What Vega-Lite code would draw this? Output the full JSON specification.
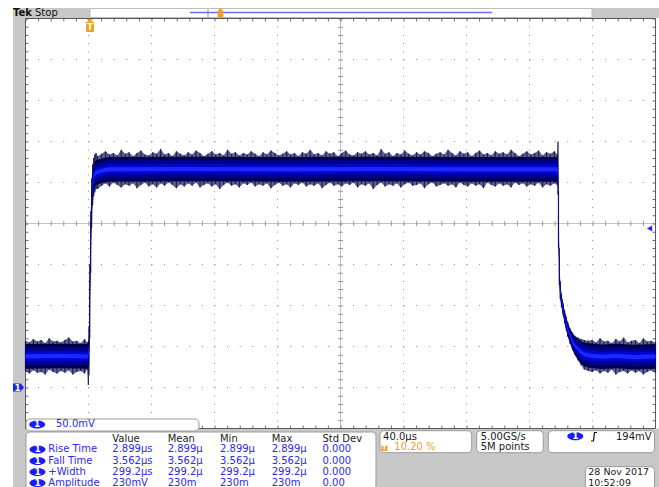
{
"$schema":"https://vega.github.io/schema/vega-lite/v6.json",
"width":659,"height":487,"autosize":{"type":"none"},"padding":0,"background":"white",
"config":{"view":{"stroke":null},"text":{"font":"DejaVu Sans","fontSize":10}},
"datasets":{
"greys":[{"t":-48.74,"t2":-41.12,"v":462.8,"v2":-125},{"t":-48.74,"t2":0.15,"v":462.8,"v2":450.6},{"t":318.9,"t2":362,"v":462.8,"v2":450.6},{"t":-41.12,"t2":362,"v":-50,"v2":-125}],
"recOutline":[{"t":75.07,"t2":318.89,"v":462.2,"v2":451.2},{"t":0.15,"t2":75.07,"v":462.2,"v2":451.2}],
"recLine":[{"t":63.63,"t2":255.38,"v":457.3}],
"recmark":[{"t":83.0,"v":456.6}],
"vgrid":[{"t":-0.8,"v":450,"v2":-50},{"t":39.2,"v":450,"v2":-50},{"t":79.2,"v":450,"v2":-50},{"t":119.2,"v":450,"v2":-50},{"t":199.2,"v":450,"v2":-50},{"t":239.2,"v":450,"v2":-50},{"t":279.2,"v":450,"v2":-50},{"t":319.2,"v":450,"v2":-50}],
"hgrid":[{"t":-40.8,"t2":359.2,"v":0},{"t":-40.8,"t2":359.2,"v":50},{"t":-40.8,"t2":359.2,"v":100},{"t":-40.8,"t2":359.2,"v":150},{"t":-40.8,"t2":359.2,"v":250},{"t":-40.8,"t2":359.2,"v":300},{"t":-40.8,"t2":359.2,"v":350},{"t":-40.8,"t2":359.2,"v":400}],
"centerH":[{"t":-40.8,"t2":359.2,"v":200}],
"centerV":[{"t":159.2,"v":450,"v2":-50}],
"edgeH":[{"t":-40.8,"t2":359.2,"v":448.17},{"t":-40.8,"t2":359.2,"v":-48.17}],
"edgeV":[{"t":-39.85,"v":450,"v2":-50},{"t":358.25,"v":450,"v2":-50}],
"frame":[{"t":-40.8,"t2":359.2,"v":450,"v2":-50}],
"outer":[
{"t":-40.8,"v":20,"v2":57},{"t":-38.3,"v":17,"v2":55},{"t":-35.8,"v":21,"v2":59},{"t":-33.3,"v":18,"v2":56},{"t":-30.8,"v":19,"v2":58},{"t":-28.3,"v":16,"v2":54},{"t":-25.8,"v":22,"v2":60},{"t":-23.3,"v":19,"v2":56},{"t":-20.8,"v":17,"v2":57},{"t":-18.3,"v":20,"v2":55},{"t":-15.8,"v":18,"v2":58},{"t":-13.3,"v":21,"v2":61},{"t":-10.8,"v":16,"v2":56},{"t":-8.3,"v":19,"v2":57},{"t":-5.8,"v":20,"v2":54},{"t":-3.3,"v":17,"v2":59},{"t":-1.6,"v":22,"v2":55},
{"t":-0.9,"v":3,"v2":56},{"t":-0.5,"v":15,"v2":75},{"t":0,"v":60,"v2":150},{"t":0.6,"v":140,"v2":215},{"t":1.2,"v":195,"v2":255},{"t":1.8,"v":222,"v2":272},{"t":2.5,"v":233,"v2":280},{"t":3.2,"v":238,"v2":284},{"t":4,"v":242,"v2":286},
{"t":5,"v":242,"v2":282},{"t":7.5,"v":246,"v2":285},{"t":10,"v":249,"v2":288},{"t":12.5,"v":245,"v2":284},{"t":15,"v":250,"v2":286},{"t":17.5,"v":247,"v2":283},{"t":20,"v":244,"v2":290},{"t":22.5,"v":248,"v2":285},{"t":25,"v":246,"v2":287},{"t":27.5,"v":249,"v2":282},{"t":30,"v":243,"v2":286},{"t":32.5,"v":247,"v2":289},{"t":35,"v":250,"v2":284},{"t":37.5,"v":245,"v2":283},{"t":40,"v":248,"v2":287},{"t":42.5,"v":244,"v2":285},{"t":45,"v":249,"v2":291},{"t":47.5,"v":246,"v2":284},{"t":50,"v":250,"v2":286},{"t":52.5,"v":247,"v2":282},{"t":55,"v":243,"v2":288},{"t":57.5,"v":248,"v2":285},{"t":60,"v":245,"v2":283},{"t":62.5,"v":249,"v2":287},{"t":65,"v":246,"v2":284},{"t":67.5,"v":250,"v2":289},{"t":70,"v":244,"v2":286},{"t":72.5,"v":247,"v2":282},{"t":75,"v":249,"v2":285},{"t":77.5,"v":245,"v2":288},{"t":80,"v":248,"v2":284},{"t":82.5,"v":242,"v2":286},{"t":85,"v":247,"v2":283},{"t":87.5,"v":250,"v2":290},{"t":90,"v":246,"v2":285},{"t":92.5,"v":248,"v2":287},{"t":95,"v":244,"v2":283},{"t":97.5,"v":249,"v2":286},{"t":100,"v":247,"v2":284},{"t":102.5,"v":250,"v2":288},{"t":105,"v":245,"v2":285},{"t":107.5,"v":248,"v2":282},{"t":110,"v":246,"v2":287},{"t":112.5,"v":249,"v2":284},{"t":115,"v":243,"v2":289},{"t":117.5,"v":247,"v2":286},{"t":120,"v":250,"v2":283},{"t":122.5,"v":246,"v2":285},{"t":125,"v":248,"v2":288},{"t":127.5,"v":244,"v2":284},{"t":130,"v":249,"v2":286},{"t":132.5,"v":247,"v2":282},{"t":135,"v":250,"v2":287},{"t":137.5,"v":245,"v2":285},{"t":140,"v":248,"v2":290},{"t":142.5,"v":246,"v2":284},{"t":145,"v":249,"v2":286},{"t":147.5,"v":243,"v2":283},{"t":150,"v":247,"v2":288},{"t":152.5,"v":250,"v2":285},{"t":155,"v":246,"v2":287},{"t":157.5,"v":248,"v2":282},{"t":160,"v":245,"v2":286},{"t":162.5,"v":249,"v2":289},{"t":165,"v":247,"v2":284},{"t":167.5,"v":250,"v2":283},{"t":170,"v":244,"v2":287},{"t":172.5,"v":248,"v2":285},{"t":175,"v":246,"v2":288},{"t":177.5,"v":249,"v2":284},{"t":180,"v":242,"v2":286},{"t":182.5,"v":247,"v2":283},{"t":185,"v":250,"v2":291},{"t":187.5,"v":245,"v2":285},{"t":190,"v":248,"v2":287},{"t":192.5,"v":246,"v2":282},{"t":195,"v":249,"v2":286},{"t":197.5,"v":244,"v2":284},{"t":200,"v":248,"v2":289},{"t":202.5,"v":250,"v2":285},{"t":205,"v":246,"v2":283},{"t":207.5,"v":247,"v2":287},{"t":210,"v":249,"v2":284},{"t":212.5,"v":243,"v2":288},{"t":215,"v":248,"v2":286},{"t":217.5,"v":250,"v2":282},{"t":220,"v":245,"v2":285},{"t":222.5,"v":247,"v2":287},{"t":225,"v":249,"v2":284},{"t":227.5,"v":246,"v2":290},{"t":230,"v":248,"v2":286},{"t":232.5,"v":244,"v2":283},{"t":235,"v":250,"v2":288},{"t":237.5,"v":247,"v2":285},{"t":240,"v":245,"v2":287},{"t":242.5,"v":249,"v2":282},{"t":245,"v":246,"v2":286},{"t":247.5,"v":248,"v2":289},{"t":250,"v":243,"v2":284},{"t":252.5,"v":250,"v2":286},{"t":255,"v":247,"v2":283},{"t":257.5,"v":245,"v2":288},{"t":260,"v":249,"v2":285},{"t":262.5,"v":246,"v2":287},{"t":265,"v":248,"v2":284},{"t":267.5,"v":244,"v2":290},{"t":270,"v":250,"v2":286},{"t":272.5,"v":247,"v2":282},{"t":275,"v":249,"v2":285},{"t":277.5,"v":245,"v2":288},{"t":280,"v":248,"v2":284},{"t":282.5,"v":246,"v2":286},{"t":285,"v":250,"v2":289},{"t":287.5,"v":244,"v2":283},{"t":290,"v":248,"v2":287},{"t":292.5,"v":246,"v2":285},{"t":295,"v":249,"v2":288},{"t":296.8,"v":247,"v2":284},
{"t":297.3,"v":235,"v2":300},{"t":297.6,"v":170,"v2":240},{"t":298.1,"v":125,"v2":170},{"t":298.7,"v":108,"v2":130},{"t":299.5,"v":98,"v2":114},{"t":300.5,"v":88,"v2":103},{"t":301.5,"v":78,"v2":94},{"t":302.5,"v":70,"v2":87},{"t":303.5,"v":62,"v2":80},{"t":305,"v":53,"v2":72},{"t":306.5,"v":46,"v2":67},{"t":308,"v":40,"v2":63},{"t":310,"v":33,"v2":61},{"t":312,"v":27,"v2":59},{"t":314,"v":22,"v2":58},{"t":316.5,"v":20,"v2":57},
{"t":319,"v":19,"v2":58},{"t":321.5,"v":21,"v2":55},{"t":324,"v":17,"v2":60},{"t":326.5,"v":20,"v2":56},{"t":329,"v":18,"v2":57},{"t":331.5,"v":22,"v2":54},{"t":334,"v":16,"v2":59},{"t":336.5,"v":19,"v2":56},{"t":339,"v":20,"v2":61},{"t":341.5,"v":17,"v2":55},{"t":344,"v":21,"v2":57},{"t":346.5,"v":18,"v2":58},{"t":349,"v":20,"v2":54},{"t":351.5,"v":16,"v2":60},{"t":354,"v":19,"v2":56},{"t":356.5,"v":21,"v2":57},{"t":359.2,"v":18,"v2":55}],
"bands":[
{"t":-40.8,"o1":23,"o2":53,"m1":27,"m2":49,"i1":32,"i2":44,"c1":35.5,"c2":40.5},{"t":-20,"o1":23.5,"o2":53.5,"m1":27.5,"m2":49.5,"i1":32.5,"i2":44.5,"c1":36,"c2":41},{"t":-1.2,"o1":23,"o2":53,"m1":27,"m2":49,"i1":32,"i2":44,"c1":35.5,"c2":40.5},{"t":-0.5,"o1":30,"o2":60,"m1":34,"m2":56,"i1":39,"i2":51,"c1":42.5,"c2":47.5},{"t":0,"o1":90,"o2":120,"m1":94,"m2":116,"i1":99,"i2":111,"c1":102.5,"c2":107.5},{"t":0.6,"o1":163,"o2":193,"m1":167,"m2":189,"i1":172,"i2":184,"c1":175.5,"c2":180.5},{"t":1.2,"o1":210,"o2":240,"m1":214,"m2":236,"i1":219,"i2":231,"c1":222.5,"c2":227.5},{"t":1.8,"o1":232,"o2":262,"m1":236,"m2":258,"i1":241,"i2":253,"c1":244.5,"c2":249.5},{"t":2.5,"o1":241,"o2":271,"m1":245,"m2":267,"i1":250,"i2":262,"c1":253.5,"c2":258.5},{"t":3.2,"o1":245,"o2":275,"m1":249,"m2":271,"i1":254,"i2":266,"c1":257.5,"c2":262.5},{"t":4,"o1":247,"o2":277,"m1":251,"m2":273,"i1":256,"i2":268,"c1":259.5,"c2":264.5},{"t":7,"o1":249,"o2":279,"m1":253,"m2":275,"i1":258,"i2":270,"c1":261.5,"c2":266.5},{"t":12,"o1":251,"o2":281,"m1":255,"m2":277,"i1":260,"i2":272,"c1":263.5,"c2":268.5},{"t":60,"o1":251.5,"o2":281.5,"m1":255.5,"m2":277.5,"i1":260.5,"i2":272.5,"c1":264,"c2":269},{"t":120,"o1":251,"o2":281,"m1":255,"m2":277,"i1":260,"i2":272,"c1":263.5,"c2":268.5},{"t":180,"o1":251.5,"o2":281.5,"m1":255.5,"m2":277.5,"i1":260.5,"i2":272.5,"c1":264,"c2":269},{"t":240,"o1":251,"o2":281,"m1":255,"m2":277,"i1":260,"i2":272,"c1":263.5,"c2":268.5},{"t":296.8,"o1":251,"o2":281,"m1":255,"m2":277,"i1":260,"i2":272,"c1":263.5,"c2":268.5},{"t":297.3,"o1":247,"o2":277,"m1":251,"m2":273,"i1":256,"i2":268,"c1":259.5,"c2":264.5},{"t":297.6,"o1":190,"o2":220,"m1":194,"m2":216,"i1":199,"i2":211,"c1":202.5,"c2":207.5},{"t":298.1,"o1":136,"o2":160,"m1":139,"m2":157,"i1":143,"i2":153,"c1":146,"c2":150},{"t":298.7,"o1":110,"o2":128,"m1":112,"m2":126,"i1":115.5,"i2":122.5,"c1":117,"c2":121},{"t":299.5,"o1":99,"o2":113,"m1":100,"m2":112,"i1":103,"i2":109,"c1":104.5,"c2":107.5},{"t":300.5,"o1":89,"o2":103,"m1":90,"m2":102,"i1":93,"i2":99,"c1":94.5,"c2":97.5},{"t":301.5,"o1":79,"o2":93,"m1":80,"m2":92,"i1":83,"i2":89,"c1":84.5,"c2":87.5},{"t":302.5,"o1":71,"o2":85,"m1":72,"m2":84,"i1":75,"i2":81,"c1":76.5,"c2":79.5},{"t":303.5,"o1":63,"o2":79,"m1":65,"m2":77,"i1":68,"i2":74,"c1":69.5,"c2":72.5},{"t":305,"o1":54,"o2":71,"m1":56,"m2":70,"i1":59.5,"i2":66.5,"c1":61.5,"c2":64.5},{"t":306.5,"o1":46,"o2":66,"m1":48,"m2":64,"i1":52,"i2":60,"c1":54,"c2":58},{"t":308,"o1":40,"o2":62,"m1":42,"m2":60,"i1":46.5,"i2":55.5,"c1":49,"c2":53},{"t":310,"o1":34,"o2":59,"m1":37,"m2":57,"i1":42,"i2":52,"c1":45,"c2":49},{"t":312,"o1":29,"o2":56,"m1":32.5,"m2":53.5,"i1":37.5,"i2":48.5,"c1":41,"c2":45},{"t":314,"o1":26,"o2":55,"m1":29.5,"m2":51.5,"i1":34.5,"i2":46.5,"c1":38,"c2":43},{"t":317,"o1":24,"o2":54,"m1":28,"m2":50,"i1":33,"i2":45,"c1":36.5,"c2":41.5},{"t":325,"o1":22.5,"o2":52.5,"m1":26.5,"m2":48.5,"i1":31.5,"i2":43.5,"c1":35,"c2":40},{"t":335,"o1":23.5,"o2":53.5,"m1":27.5,"m2":49.5,"i1":32.5,"i2":44.5,"c1":36,"c2":41},{"t":345,"o1":22,"o2":52,"m1":26,"m2":48,"i1":31,"i2":43,"c1":34.5,"c2":39.5},{"t":359.2,"o1":23,"o2":53,"m1":27,"m2":49,"i1":32,"i2":44,"c1":35.5,"c2":40.5}],
"trig":[{"t":0.15,"v":441.5}],
"level":[{"t":355.4,"v":194}],
"ground":[{"t":-45.24,"v":0}],
"boxes":[{"t":-40.48,"t2":69.35,"v":-38.41,"v2":-53.05},{"t":-40.48,"t2":181.74,"v":-54.27,"v2":-125},{"t":184.28,"t2":242.5,"v":-52.68,"v2":-79.51},{"t":245.68,"t2":287.96,"v":-52.68,"v2":-79.51},{"t":291.14,"t2":358.6,"v":-52.68,"v2":-79.51},{"t":314.7,"t2":358.6,"v":-96.58,"v2":-125}],
"ones":[{"t":-33.37,"v":-45.12},{"t":-33.18,"v":-75.6},{"t":-33.18,"v":-89.6},{"t":-33.18,"v":-103.0},{"t":-33.18,"v":-116.5},{"t":308.28,"v":-59.5}],
"ticon":[{"t":187.1,"v":-73.8}],
"slope":[{"t":318.25,"v":-65.24},{"t":319.83,"v":-65.24},{"t":320.47,"v":-54.88},{"t":322.05,"v":-54.88}],
"txtBlue":[{"t":-21.43,"v":-45.12,"label":"50.0mV"},
{"t":-26.32,"v":-75.6,"label":"Rise Time"},{"t":14.31,"v":-75.6,"label":"2.899µs"},{"t":49.49,"v":-75.6,"label":"2.899µ"},{"t":82.69,"v":-75.6,"label":"2.899µ"},{"t":115.52,"v":-75.6,"label":"2.899µ"},{"t":147.77,"v":-75.6,"label":"0.000"},
{"t":-26.32,"v":-89.6,"label":"Fall Time"},{"t":14.31,"v":-89.6,"label":"3.562µs"},{"t":49.49,"v":-89.6,"label":"3.562µ"},{"t":82.69,"v":-89.6,"label":"3.562µ"},{"t":115.52,"v":-89.6,"label":"3.562µ"},{"t":147.77,"v":-89.6,"label":"0.000"},
{"t":-26.32,"v":-103.0,"label":"+Width"},{"t":14.31,"v":-103.0,"label":"299.2µs"},{"t":49.49,"v":-103.0,"label":"299.2µ"},{"t":82.69,"v":-103.0,"label":"299.2µ"},{"t":115.52,"v":-103.0,"label":"299.2µ"},{"t":147.77,"v":-103.0,"label":"0.000"},
{"t":-26.32,"v":-116.5,"label":"Amplitude"},{"t":14.31,"v":-116.5,"label":"230mV"},{"t":49.49,"v":-116.5,"label":"230m"},{"t":82.69,"v":-116.5,"label":"230m"},{"t":115.52,"v":-116.5,"label":"230m"},{"t":147.77,"v":-116.5,"label":"0.00"}],
"txtBlack":[{"t":14.31,"v":-62.2,"label":"Value"},{"t":49.49,"v":-62.2,"label":"Mean"},{"t":82.69,"v":-62.2,"label":"Min"},{"t":115.52,"v":-62.2,"label":"Max"},{"t":147.77,"v":-62.2,"label":"Std Dev"},{"t":186.2,"v":-60.0,"label":"40.0µs"},{"t":248.22,"v":-60.0,"label":"5.00GS/s"},{"t":248.22,"v":-71.95,"label":"5M points"}],
"txtDate":[{"t":316.53,"v":-103.4,"label":"28 Nov 2017"},{"t":316.53,"v":-116.2,"label":"10:52:09"}],
"txtRight":[{"t":356.78,"v":-60.0,"label":"194mV"}],
"txtOrange":[{"t":193.36,"v":-71.95,"label":"10.20 %"}],
"txtTek":[{"t":-48.73,"v":456.3,"label":"Tek"}],
"txtStop":[{"t":-34.76,"v":456.3,"label":"Stop"}]
},
"encoding":{
"x":{"field":"t","type":"quantitative","scale":{"domain":[-56.99,361.43],"nice":false,"zero":false},"axis":null},
"y":{"field":"v","type":"quantitative","scale":{"domain":[-121.34,472.56],"nice":false,"zero":false},"axis":null}
},
"layer":[
{"data":{"name":"greys"},"mark":{"type":"rect","fill":"#c8c8c8"},"encoding":{"x2":{"field":"t2"},"y2":{"field":"v2"}}},
{"data":{"name":"recOutline"},"mark":{"type":"rect","fill":"transparent","stroke":"#bdbdbd","strokeWidth":1},"encoding":{"x2":{"field":"t2"},"y2":{"field":"v2"}}},
{"data":{"name":"recLine"},"mark":{"type":"rule","color":"#6b6bff","strokeWidth":1.5},"encoding":{"x2":{"field":"t2"}}},
{"data":{"name":"recmark"},"mark":{"type":"point","shape":"M-0.5,-1 L0.5,-1 L0.12,-0.62 L0.5,-0.62 L0.62,-0.5 L0.62,0.88 L0.5,1 L-0.5,1 L-0.62,0.88 L-0.62,-0.5 L-0.5,-0.62 L-0.12,-0.62 Z","filled":true,"color":"#f0a020","opacity":1,"size":81}},
{"data":{"name":"vgrid"},"mark":{"type":"rule","color":"#8c8c8c","strokeWidth":1,"strokeDash":[1,7.2]},"encoding":{"y2":{"field":"v2"}}},
{"data":{"name":"hgrid"},"mark":{"type":"rule","color":"#8c8c8c","strokeWidth":1,"strokeDash":[1,11.6]},"encoding":{"x2":{"field":"t2"}}},
{"data":{"name":"centerH"},"mark":{"type":"rule","color":"#c4c4c4","strokeWidth":1},"encoding":{"x2":{"field":"t2"}}},
{"data":{"name":"centerV"},"mark":{"type":"rule","color":"#c4c4c4","strokeWidth":1},"encoding":{"y2":{"field":"v2"}}},
{"data":{"name":"centerH"},"mark":{"type":"rule","color":"#9a9a9a","strokeWidth":5,"strokeDash":[1,11.6]},"encoding":{"x2":{"field":"t2"}}},
{"data":{"name":"centerV"},"mark":{"type":"rule","color":"#9a9a9a","strokeWidth":5,"strokeDash":[1,7.2]},"encoding":{"y2":{"field":"v2"}}},
{"data":{"name":"edgeH"},"mark":{"type":"rule","color":"#6e6e6e","strokeWidth":3,"strokeDash":[1,11.6]},"encoding":{"x2":{"field":"t2"}}},
{"data":{"name":"edgeV"},"mark":{"type":"rule","color":"#6e6e6e","strokeWidth":3,"strokeDash":[1,7.2]},"encoding":{"y2":{"field":"v2"}}},
{"data":{"name":"frame"},"mark":{"type":"rect","fill":"transparent","stroke":"#585858","strokeWidth":1},"encoding":{"x2":{"field":"t2"},"y2":{"field":"v2"}}},
{"data":{"name":"outer"},"mark":{"type":"area","fill":"#0a0a52","opacity":0.65},"encoding":{"y2":{"field":"v2"}}},
{"data":{"name":"outer"},"mark":{"type":"rule","color":"#1c1c5e","strokeWidth":1.2},"encoding":{"y2":{"field":"v2"}}},
{"data":{"name":"bands"},"mark":{"type":"area","fill":"#00004a"},"encoding":{"y":{"field":"o1","type":"quantitative","scale":{"domain":[-121.34,472.56],"nice":false,"zero":false},"axis":null},"y2":{"field":"o2"}}},
{"data":{"name":"bands"},"mark":{"type":"area","fill":"#000090"},"encoding":{"y":{"field":"m1","type":"quantitative","scale":{"domain":[-121.34,472.56],"nice":false,"zero":false},"axis":null},"y2":{"field":"m2"}}},
{"data":{"name":"bands"},"mark":{"type":"area","fill":"#0006d0"},"encoding":{"y":{"field":"i1","type":"quantitative","scale":{"domain":[-121.34,472.56],"nice":false,"zero":false},"axis":null},"y2":{"field":"i2"}}},
{"data":{"name":"bands"},"mark":{"type":"area","fill":"#1a2aff"},"encoding":{"y":{"field":"c1","type":"quantitative","scale":{"domain":[-121.34,472.56],"nice":false,"zero":false},"axis":null},"y2":{"field":"c2"}}},
{"data":{"name":"trig"},"mark":{"type":"point","shape":"M-0.5,-1 L0.5,-1 L0.12,-0.62 L0.5,-0.62 L0.62,-0.5 L0.62,0.88 L0.5,1 L-0.5,1 L-0.62,0.88 L-0.62,-0.5 L-0.5,-0.62 L-0.12,-0.62 Z","filled":true,"color":"#f0a020","opacity":1,"size":169}},
{"data":{"name":"trig"},"mark":{"type":"text","text":"T","align":"center","baseline":"middle","dy":1.5,"color":"white","fontWeight":"bold","fontSize":9}},
{"data":{"name":"level"},"mark":{"type":"point","shape":"triangle-left","filled":true,"color":"#2424ff","opacity":1,"size":36}},
{"data":{"name":"ground"},"mark":{"type":"point","shape":"M-1,-0.72 L0.4,-0.72 L1,0 L0.4,0.72 L-1,0.72 Z","filled":true,"color":"#1e1eff","opacity":1,"size":121}},
{"data":{"name":"ground"},"mark":{"type":"text","text":"1","align":"center","baseline":"middle","dx":-1,"color":"white","fontWeight":"bold","fontSize":9}},
{"data":{"name":"boxes"},"mark":{"type":"rect","fill":"white","stroke":"#9a9a9a","strokeWidth":1,"cornerRadius":4},"encoding":{"x2":{"field":"t2"},"y2":{"field":"v2"}}},
{"data":{"name":"ones"},"mark":{"type":"point","shape":"M-1,0 A1,0.5 0 1,1 1,0 A1,0.5 0 1,1 -1,0 Z","filled":true,"color":"#1a1aff","opacity":1,"size":256}},
{"data":{"name":"ones"},"mark":{"type":"text","text":"1","align":"center","baseline":"middle","color":"white","fontWeight":"bold","fontSize":9}},
{"data":{"name":"ticon"},"mark":{"type":"point","shape":"square","filled":true,"color":"#f0a020","opacity":1,"size":36}},
{"data":{"name":"ticon"},"mark":{"type":"text","text":"T","align":"center","baseline":"middle","color":"white","fontWeight":"bold","fontSize":7}},
{"data":{"name":"slope"},"mark":{"type":"line","color":"#111111","strokeWidth":1.2},"encoding":{}},
{"data":{"name":"txtBlue"},"mark":{"type":"text","align":"left","baseline":"middle","color":"#2a2aee","fontSize":10},"encoding":{"text":{"field":"label"}}},
{"data":{"name":"txtBlack"},"mark":{"type":"text","align":"left","baseline":"middle","color":"#1a1a1a","fontSize":10},"encoding":{"text":{"field":"label"}}},
{"data":{"name":"txtDate"},"mark":{"type":"text","align":"left","baseline":"middle","color":"#1a1a1a","fontSize":9.5},"encoding":{"text":{"field":"label"}}},
{"data":{"name":"txtRight"},"mark":{"type":"text","align":"right","baseline":"middle","color":"#1a1a1a","fontSize":10},"encoding":{"text":{"field":"label"}}},
{"data":{"name":"txtOrange"},"mark":{"type":"text","align":"left","baseline":"middle","color":"#f0a020","fontSize":10},"encoding":{"text":{"field":"label"}}},
{"data":{"name":"txtTek"},"mark":{"type":"text","align":"left","baseline":"middle","color":"#111111","fontWeight":"bold","fontSize":10},"encoding":{"text":{"field":"label"}}},
{"data":{"name":"txtStop"},"mark":{"type":"text","align":"left","baseline":"middle","color":"#111111","fontSize":10},"encoding":{"text":{"field":"label"}}}
]
}
